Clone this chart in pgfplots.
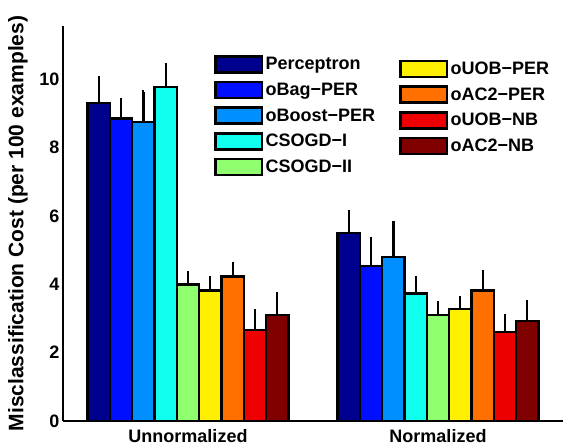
\documentclass[border=0pt]{standalone}
\usepackage{pgfplots}
\pgfplotsset{compat=1.18}
\usepackage{fontspec}
\setmainfont{Liberation Sans}

\definecolor{cPer}{RGB}{0,0,143}
\definecolor{cBag}{RGB}{0,16,255}
\definecolor{cBoost}{RGB}{0,143,255}
\definecolor{cCSI}{RGB}{16,255,239}
\definecolor{cCSII}{RGB}{143,255,112}
\definecolor{cUOBPER}{RGB}{255,239,0}
\definecolor{cACPER}{RGB}{255,112,0}
\definecolor{cUOBNB}{RGB}{239,0,0}
\definecolor{cACNB}{RGB}{128,0,0}

\pgfplotsset{
  boxlegend/.style={legend image code/.code={\draw[##1,draw=black,line width=2.4pt] (0pt,-8pt) rectangle (46.5pt,8pt);}},
  mybar/.style={fill=#1, draw=black, line width=2.4pt, bar width=0.0892, boxlegend,
    error bars/.cd, y dir=plus, y explicit,
    error bar style={line width=2.2pt, draw=black},
    error mark options={line width=2.2pt, mark size=2pt, draw=black},
    /pgfplots/.cd},
  myaxis/.style={scale only axis, width=500pt, height=395pt,
    xmin=0.5, xmax=2.5, ymin=0, ymax=11.55},
}

\newcommand{\lfont}{\fontsize{18}{20}\selectfont\bfseries}

\begin{document}
\begin{tikzpicture}
\begin{axis}[name=ax, myaxis,
  ybar=0pt,
  axis x line=bottom, axis y line=left,
  axis line style={-, line width=2.2pt},
  xtick={1,2}, xticklabels={Unnormalized, Normalized},
  ytick={0,2,4,6,8,10},
  major tick length=0pt,
  /pgf/number format/assume math mode=true,
  tick label style={font=\lfont},
  xticklabel style={yshift=-5pt},
  ylabel={Misclassification Cost (per 100 examples)},
  ylabel style={font=\fontsize{21}{23}\selectfont\bfseries, at={(axis description cs:-0.09,0.5)}, anchor=center},
  legend style={at={(axis description cs:0.302,0.927)}, anchor=north west, draw=none, fill=none,
    inner sep=0pt, row sep=6.7pt, font=\lfont, nodes={inner sep=2.5pt}},
  legend cell align=left,
]
\addplot[mybar=cPer, bar shift=-0.3568] coordinates {(1,9.30) +- (0,0.73) (2,5.50) +- (0,0.60)};
\addplot[mybar=cBag, bar shift=-0.2676] coordinates {(1,8.85) +- (0,0.53) (2,4.53) +- (0,0.80)};
\addplot[mybar=cBoost, bar shift=-0.1784] coordinates {(1,8.74) +- (0,0.87) (2,4.79) +- (0,0.99)};
\addplot[mybar=cCSI, bar shift=-0.0892] coordinates {(1,9.77) +- (0,0.65) (2,3.73) +- (0,0.46)};
\addplot[mybar=cCSII, bar shift=0] coordinates {(1,3.99) +- (0,0.35) (2,3.10) +- (0,0.34)};
\addplot[mybar=cUOBPER, bar shift=0.0892] coordinates {(1,3.82) +- (0,0.35) (2,3.28) +- (0,0.31)};
\addplot[mybar=cACPER, bar shift=0.1784] coordinates {(1,4.23) +- (0,0.37) (2,3.82) +- (0,0.53)};
\addplot[mybar=cUOBNB, bar shift=0.2676] coordinates {(1,2.66) +- (0,0.55) (2,2.60) +- (0,0.47)};
\addplot[mybar=cACNB, bar shift=0.3568] coordinates {(1,3.10) +- (0,0.62) (2,2.93) +- (0,0.54)};
\legend{Perceptron, oBag−PER, oBoost−PER, CSOGD−I, CSOGD−II}
\end{axis}
\begin{axis}[myaxis, hide axis,
  legend style={at={(axis description cs:0.672,0.916)}, anchor=north west, draw=none, fill=none,
    inner sep=0pt, row sep=6.7pt, font=\lfont, nodes={inner sep=2.5pt}},
  legend cell align=left,
]
\addlegendimage{fill=cUOBPER, boxlegend}
\addlegendentry{oUOB−PER}
\addlegendimage{fill=cACPER, boxlegend}
\addlegendentry{oAC2−PER}
\addlegendimage{fill=cUOBNB, boxlegend}
\addlegendentry{oUOB−NB}
\addlegendimage{fill=cACNB, boxlegend}
\addlegendentry{oAC2−NB}
\end{axis}
\pgfresetboundingbox
\path[use as bounding box] ([shift={(-63pt,-24pt)}]ax.south west) rectangle ([shift={(2pt,26pt)}]ax.north east);
\end{tikzpicture}
\end{document}
